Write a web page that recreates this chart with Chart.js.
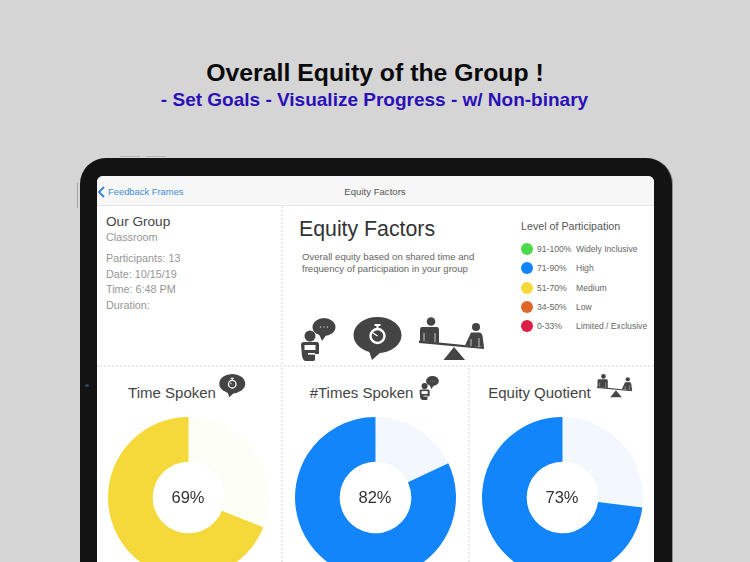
<!DOCTYPE html>
<html>
<head>
<meta charset="utf-8">
<script src="https://cdn.jsdelivr.net/npm/chart.js@4"></script>
<style>
html, body { margin: 0; padding: 0; }
body { width: 750px; height: 562px; overflow: hidden; position: relative; background: #d5d5d5; font-family: "Liberation Sans", sans-serif; color: #333; }
.abs { position: absolute; white-space: nowrap; }
.center { transform: translateX(-50%); }
#frame { left: 80px; top: 158px; width: 592px; height: 430px; background: #131313; border-radius: 26px; box-shadow: 1px 0 0 #8f8f8f; }
#screen { left: 97px; top: 176px; width: 557px; height: 400px; background: #fff; border-radius: 6px 6px 0 0; overflow: hidden; }
#nav { left: 97px; top: 176px; width: 557px; height: 30px; background: #f7f7f7; border-radius: 6px 6px 0 0; border-bottom: 1px solid #e8e8e8; box-sizing: border-box; }
.dotH { height: 0; border-top: 2px dotted #e9e9e9; }
.dotV { width: 0; border-left: 2px dotted #e9e9e9; }
.grey { color: #969696; font-size: 10.8px; }
canvas { position: absolute; }
svg { position: absolute; left: 0; top: 0; }
</style>
</head>
<body>
<div class="abs center" style="left:375px;top:59px;font-size:24.8px;font-weight:bold;color:#0a0a0a">Overall Equity of the Group !</div>
<div class="abs center" style="left:374.5px;top:89px;font-size:19px;font-weight:bold;color:#2a10b8">- Set Goals - Visualize Progress - w/ Non-binary</div>

<div class="abs" style="left:120px;top:156px;width:20px;height:1px;background:#b5b5b5"></div>
<div class="abs" style="left:146px;top:156px;width:20px;height:1px;background:#b5b5b5"></div>
<div class="abs" style="left:77px;top:183px;width:1px;height:25px;background:#a5a5a5"></div>
<div class="abs" id="frame"></div>
<div class="abs" style="left:85px;top:384px;width:4px;height:3px;border-radius:2px;background:#2c4260"></div>
<div class="abs" id="screen"></div>
<div class="abs" id="nav"></div>
<div class="abs" style="left:108px;top:186px;font-size:9.4px;color:#3d8fd6">Feedback Frames</div>
<div class="abs center" style="left:375px;top:186px;font-size:9.6px;color:#555">Equity Factors</div>

<div class="abs dotV" style="left:281px;top:206px;height:158px"></div>
<div class="abs dotH" style="left:97px;top:365px;width:557px"></div>
<div class="abs dotV" style="left:281px;top:368px;height:194px"></div>
<div class="abs dotV" style="left:468px;top:368px;height:194px"></div>

<div class="abs" style="left:106px;top:214px;font-size:13.6px;color:#444">Our Group</div>
<div class="abs grey" style="left:106px;top:231px">Classroom</div>
<div class="abs grey" style="left:106px;top:252px">Participants: 13</div>
<div class="abs grey" style="left:106px;top:268px">Date: 10/15/19</div>
<div class="abs grey" style="left:106px;top:283px">Time: 6:48 PM</div>
<div class="abs grey" style="left:106px;top:299px">Duration:</div>

<div class="abs" style="left:299px;top:217px;font-size:21.3px;color:#333">Equity Factors</div>
<div class="abs" style="left:302px;top:251px;font-size:9.6px;color:#666;line-height:11.5px">Overall equity based on shared time and<br>frequency of participation in your group</div>
<div class="abs" style="left:521px;top:220px;font-size:10.7px;color:#555">Level of Participation</div>
<div id="legend"></div>

<svg width="750" height="562" viewBox="0 0 750 562">
  <defs>
    <g id="iconChat">
      <ellipse cx="24" cy="9" rx="11.5" ry="9" fill="#444"/>
      <path d="M19 16 L22 23 L27 16 Z" fill="#444"/>
      <circle cx="20.5" cy="9" r="0.7" fill="#ccc"/><circle cx="24" cy="9" r="0.7" fill="#ccc"/><circle cx="27.5" cy="9" r="0.7" fill="#ccc"/>
      <circle cx="10" cy="18" r="5.5" fill="#444"/>
      <path d="M4 24 H17 Q19 24 19 27 V36 H15 V42 Q15 43 13 43 H6 Q3 43 2 38 L1 27 Q1 24 4 24 Z" fill="#444"/>
      <rect x="4.5" y="27" width="11" height="5" fill="#fff"/>
      <rect x="8" y="35" width="7" height="1.6" fill="#fff"/>
    </g>
    <g id="iconWatch">
      <ellipse cx="24.5" cy="17" rx="24" ry="18" fill="#444"/>
      <path d="M16 33 L19 42 L28 34 Z" fill="#444"/>
      <circle cx="24.5" cy="18" r="7" fill="none" stroke="#fff" stroke-width="2.4"/>
      <rect x="21.5" y="6" width="6" height="2" fill="#fff"/>
      <rect x="23.5" y="8" width="2" height="3" fill="#fff"/>
      <path d="M24.5 18 L20 15" stroke="#fff" stroke-width="1.4"/>
    </g>
    <g id="iconSeesaw">
      <circle cx="12" cy="3.5" r="4.3" fill="#444"/>
      <path d="M3 9 H18 Q20 9 20 12 V25 L1 23 V12 Q1 9 3 9 Z" fill="#444"/>
      <path d="M5 15 V23 M16 15 V24" stroke="#fff" stroke-width="0.7"/>
      <path d="M0 22.5 L65 29 V31 L0 25 Z" fill="#444"/>
      <path d="M35 29 L24.5 42 H46 Z" fill="#444"/>
      <circle cx="57" cy="9" r="4" fill="#444"/>
      <path d="M52 14.5 H61 Q63 15 63.5 18 L65 29 L46 27.5 Z" fill="#444"/>
      <path d="M52 21 V28 M60 20 V29" stroke="#fff" stroke-width="0.7"/>
    </g>
  </defs>
  <use href="#iconChat" transform="translate(300,318)"/>
  <use href="#iconWatch" transform="translate(353,318)"/>
  <use href="#iconSeesaw" transform="translate(419,318)"/>
  <use href="#iconWatch" transform="translate(219,374.5) scale(0.54)"/>
  <use href="#iconChat" transform="translate(419,376) scale(0.56)"/>
  <use href="#iconSeesaw" transform="translate(597,374.5) scale(0.54)"/>
  <path d="M104 187 L99 192 L104 197" fill="none" stroke="#2f86d8" stroke-width="1.8"/>
</svg>

<script>
const categories = ["Time Spoken", "#Times Spoken", "Equity Quotient"];
const percentValues = [69, 82, 73];
const restValues = [31, 18, 27];
const percentLabels = ["69%", "82%", "73%"];
const fillColors = ["#f5d93b", "#1285fa", "#1285fa"];
const paleColors = ["#fdfef5", "#f3f8fe", "#f3f8fe"];
const centerX = [188, 375, 562];
const titleX = [172, 361.5, 539.5];

const legendRanges = ["91-100%", "71-90%", "51-70%", "34-50%", "0-33%"];
const legendNames = ["Widely Inclusive", "High", "Medium", "Low", "Limited / Exclusive"];
const legendColors = ["#4cd94c", "#1285fa", "#f5d93b", "#e0662a", "#dc1e46"];
const legendY = [249, 268, 288, 307, 326];

function addDiv(parent, css, text) {
    const el = document.createElement("div");
    el.className = "abs";
    el.style.cssText = css;
    el.textContent = text || "";
    parent.appendChild(el);
    return el;
}

const legend = document.getElementById("legend");
legendRanges.forEach((range, i) => {
    const y = legendY[i];
    addDiv(legend, `left:521px;top:${y - 6}px;width:12px;height:12px;border-radius:50%;background:${legendColors[i]}`);
    addDiv(legend, `left:537px;top:${y - 5}px;font-size:8.6px;color:#666`, range);
    addDiv(legend, `left:576px;top:${y - 5}px;font-size:8.6px;color:#666`, legendNames[i]);
});

categories.forEach((name, i) => {
    addDiv(document.body, `left:${titleX[i]}px;top:384px;font-size:15px;color:#444;transform:translateX(-50%)`, name);

    const canvas = document.createElement("canvas");
    canvas.width = 161;
    canvas.height = 161;
    canvas.style.left = (centerX[i] - 80.5) + "px";
    canvas.style.top = "417px";
    document.body.appendChild(canvas);

    new Chart(canvas.getContext("2d"), {
        type: "doughnut",
        data: {
            labels: ["Rest", name],
            datasets: [{
                data: [restValues[i], percentValues[i]],
                backgroundColor: [paleColors[i], fillColors[i]],
                borderWidth: 0
            }]
        },
        options: {
            responsive: false,
            animation: false,
            cutout: "44.5%",
            plugins: { legend: { display: false }, tooltip: { enabled: false } }
        }
    });

    addDiv(document.body, `left:${centerX[i]}px;top:488px;font-size:16.5px;color:#333;transform:translateX(-50%)`, percentLabels[i]);
});
</script>
</body>
</html>
